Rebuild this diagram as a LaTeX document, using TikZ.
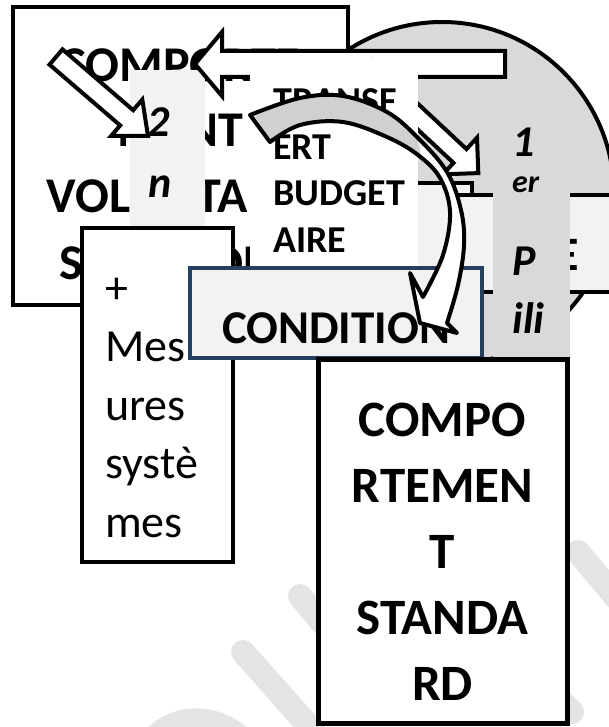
\documentclass[tikz,border=0pt]{standalone}
\usepackage{fontspec}
\setmainfont{Carlito}
\definecolor{lgray}{HTML}{F2F2F2}
\definecolor{cgray}{HTML}{D9D9D9}
\definecolor{bandgray}{HTML}{D0D0D0}
\definecolor{navy}{HTML}{243F60}
\definecolor{wm}{HTML}{E4E4E4}
\tikzset{
  boxblk/.style={draw=black, line width=4.5pt, fill=white, inner sep=0pt, outer sep=0pt},
  plainbox/.style={inner sep=0pt, outer sep=0pt},
  arrw/.style={draw=black, line width=4pt, fill=white, line join=miter},
  wmark/.style={draw=wm, line width=24pt, line cap=round},
  tA/.style={font=\bfseries\fontsize{50}{60}\selectfont, inner sep=0pt, anchor=base},
  tT/.style={font=\bfseries\fontsize{38}{46}\selectfont, inner sep=0pt, anchor=base west},
  tC/.style={font=\bfseries\fontsize{47}{56}\selectfont, inner sep=0pt, anchor=base},
  tM/.style={font=\fontsize{46}{56}\selectfont, inner sep=0pt, anchor=base west},
  tS/.style={font=\bfseries\fontsize{51}{62}\selectfont, inner sep=0pt, anchor=base},
  tP/.style={font=\bfseries\itshape\fontsize{44}{52}\selectfont, inner sep=0pt, anchor=base west},
  tPs/.style={font=\bfseries\itshape\fontsize{32}{38}\selectfont, inner sep=0pt, anchor=base west},
  carrowpath/.style={insert path={
    plot[smooth, tension=0.6] coordinates {(250,115) (300,98) (343,96) (387,112) (418,138) (447,172) (461,210) (464,245) (458,285) (447,323)}
    -- (457,333) -- (420,323) -- (410,273) -- (423,297)
    -- plot[smooth, tension=0.6] coordinates {(423,297) (443,255) (450,212) (440,178) (418,155) (387,137) (343,122) (300,125) (270,142)}
    -- cycle}}
}
\begin{document}
\begin{tikzpicture}[x=1pt,y=-1pt]
\useasboundingbox (0,0) rectangle (608,727);
\fill[white] (0,0) rectangle (608,727);

% watermark strokes
\draw[wmark] (300,596) -- (350,656);
\draw[wmark] (243,652) -- (330,750);
\draw[wmark] (150,742) .. controls (175,714) and (212,714) .. (240,737);
\draw[wmark] (578,552) -- (625,608);
\draw[wmark] (540,680) -- (572,712);

% big gray circle
\node[circle, fill=cgray, draw=black, line width=4pt, minimum size=344pt, inner sep=0pt] (circ) at (442,194) {};

% box A
\node[boxblk, minimum width=335pt, minimum height=298pt] (boxA) at (180.5,156) {};
\node[tA] (a1) at (180,82) {COMPORTE};
\node[tA] (a2) at (180,147) {MENT};
\node[tA] (a3) at (180,213) {VOLONTAIRE};
\node[tA] (a4) at (180,279) {SPÉCIFIQUE};

% column 2nd pilier
\node[plainbox, fill=lgray, minimum width=75pt, minimum height=158pt] (col2) at (167.5,149) {};
\node[tP] (c2a) at (147,137) {2};
\node[tP] (c2b) at (148,197) {n};

% diagonal arrow to 2nd pillar
\draw[arrw] (62.5,49.4) -- (133.2,110.2) -- (142.3,99.6) -- (148,136) -- (111.1,136) -- (120.2,125.4) -- (49.5,64.6) -- cycle;

% left pointing arrow
\draw[arrw] (505,51) -- (222,51) -- (222,32) -- (195,64) -- (222,96) -- (222,77) -- (505,77) -- cycle;

% arrow to 1er pilier
\draw[arrw] (371.5,60.4) -- (466.5,149.1) -- (477,137.7) -- (478.3,173.1) -- (443,174.3) -- (453.5,162.9) -- (358.5,74.2) -- cycle;

% band boxes
\node[plainbox, fill=lgray, draw=black, line width=4pt, minimum width=62pt, minimum height=109pt] (g0) at (441,237.5) {};
\node[plainbox, fill=lgray, draw=black, line width=4pt, minimum width=165pt, minimum height=97pt] (g1) at (537.5,243.5) {};
\node[font=\bfseries\fontsize{48}{56}\selectfont, inner sep=0pt, anchor=base east] (ge) at (579,270) {E};

% column 1er pilier
\node[plainbox, fill=cgray, minimum width=77pt, minimum height=237pt] (col1) at (531.5,238.5) {};
\node[tP] (c1a) at (512,157) {1};
\node[tPs] (c1b) at (512,193) {er};
\node[tP] (c1c) at (512,275) {P};
\node[tP] (c1d) at (512,333) {ili};

% white box transfert budgetaire
\node[plainbox, fill=white, minimum width=168pt, minimum height=212pt] (tb) at (334,164) {};
\node[tT] (t1) at (273,114) {TRANSF};
\node[tT] (t2) at (273,160) {ERT};
\node[tT] (t3) at (273,206) {BUDGET};
\node[tT] (t4) at (273,252) {AIRE};

% mesures systemes
\node[boxblk, line width=4pt, minimum width=151pt, minimum height=334pt] (mes) at (157.5,395) {};
\node[tM] (m1) at (105,303) {+};
\node[tM] (m2) at (105,361) {Mes};
\node[tM] (m3) at (105,420) {ures};
\node[tM] (m4) at (105,478) {systè};
\node[tM] (m5) at (105,537) {mes};

% condition box
\node[plainbox, fill=lgray, draw=navy, line width=3.5pt, minimum width=292pt, minimum height=90pt] (cond) at (336,313) {};
\node[tC] (ct) at (336,343) {CONDITION};

% curved arrow
\fill[white, carrowpath];
\begin{scope}
  \clip (200,40) -- (398,40) -- (430,200) -- (200,200) -- cycle;
  \fill[bandgray, carrowpath];
\end{scope}
\draw[black, line width=4pt, line join=round, carrowpath];

% standard box
\node[boxblk, line width=5pt, minimum width=249pt, minimum height=364pt] (std) at (442.5,541) {};
\node[tS] (s1) at (442.5,436) {COMPO};
\node[tS] (s2) at (442.5,502) {RTEMEN};
\node[tS] (s3) at (442.5,568) {T};
\node[tS] (s4) at (442.5,634) {STANDA};
\node[tS] (s5) at (442.5,700) {RD};
\end{tikzpicture}
\end{document}
